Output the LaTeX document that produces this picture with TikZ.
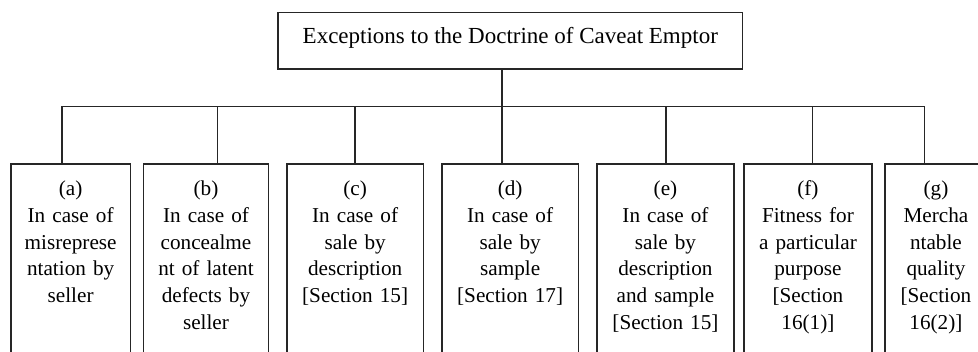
\documentclass[tikz,border=0pt]{standalone}
\usepackage{fontspec}
\setmainfont{Liberation Serif}
\begin{document}
\begin{tikzpicture}[x=1pt,y=-1pt,
  linecol/.style={draw=black!85, line width=1.6pt},
  rootbox/.style={linecol, inner sep=0pt, anchor=north west,
    font=\fontsize{23}{27}\selectfont, align=center,
    text height=30.6pt, text depth=25.7pt},
  itembox/.style={linecol, inner sep=0pt, anchor=north west,
    font=\fontsize{21.2}{26.7}\selectfont, align=center,
    text height=31.7pt, text depth=157.3pt},
  link/.style={linecol, line join=miter},
]
\useasboundingbox (0,0) rectangle (978,352);
\clip (0,0) rectangle (978,352);

% heading box
\node[rootbox, minimum width=464.4pt] (root) at (277.3,11.7)
  {Exceptions to the Doctrine of Caveat Emptor};

% the seven exceptions
\node[itembox, text width=119.7pt] (a) at (10,163.3)
  {(a)\\In case of\\misreprese\\ntation by\\seller};
\node[itembox, text width=125pt] (b) at (142.7,163.3)
  {(b)\\In case of\\concealme\\nt of latent\\defects by\\seller};
\node[itembox, text width=136.7pt] (c) at (286,163.3)
  {(c)\\In case of\\sale by\\description\\{[Section 15]}};
\node[itembox, text width=136.7pt] (d) at (441,163.3)
  {(d)\\In case of\\sale by\\sample\\{[Section 17]}};
\node[itembox, text width=136.7pt] (e) at (596.3,163.3)
  {(e)\\In case of\\sale by\\description\\and sample\\{[Section 15]}};
\node[itembox, text width=127.7pt] (f) at (743.3,163.3)
  {(f)\\Fitness for\\a particular\\purpose\\{[Section}\\16(1)]};
\node[itembox, text width=101.7pt] (g) at (884.3,163.3)
  {(g)\\Mercha\\ntable\\quality\\{[Section}\\16(2)]};

% junctions on the horizontal bar
\coordinate (ja) at (62,106.7);
\coordinate (jb) at (217.3,106.7);
\coordinate (jc) at (355,106.7);
\coordinate (jd) at (501.7,106.7);
\coordinate (je) at (665.7,106.7);
\coordinate (jf) at (812.3,106.7);
\coordinate (jg) at (924.3,106.7);

% connectors
\draw[link] (jd |- root.south) -- (jd);
\draw[link] (ja |- a.north) -- (ja) -- (jg) -- (jg |- g.north);
\draw[link] (jb) -- (jb |- b.north);
\draw[link] (jc) -- (jc |- c.north);
\draw[link] (jd) -- (jd |- d.north);
\draw[link] (je) -- (je |- e.north);
\draw[link] (jf) -- (jf |- f.north);
\end{tikzpicture}
\end{document}
